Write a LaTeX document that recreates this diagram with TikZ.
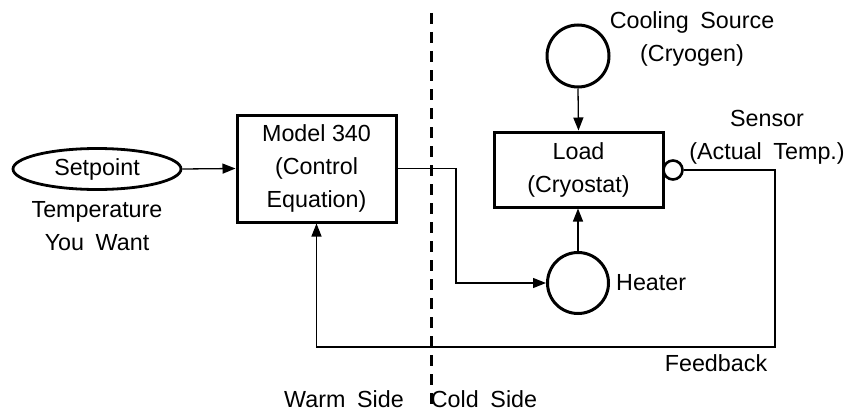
\documentclass[tikz,border=0pt]{standalone}
\usepackage{fontspec}
\setmainfont{Liberation Sans}
\usetikzlibrary{arrows.meta,shapes.geometric}
\newcommand{\wsp}{\hspace{0.5em}}
\begin{document}
\begin{tikzpicture}[x=1pt,y=-1pt,
  every node/.style={font=\fontsize{23.3}{33}\selectfont},
  blockbox/.style={draw,line width=3pt,inner sep=0pt,align=center},
  circ/.style={draw,circle,line width=3pt,inner sep=0pt},
  lbl/.style={inner sep=0pt,align=center},
  conn/.style={line width=1.3pt,-{Triangle[length=13pt,width=10pt]}},
  plain/.style={line width=1.3pt}
]
\useasboundingbox (0,0) rectangle (856,412);
% dashed divider
\coordinate (dtop) at (431,13);
\coordinate (dbot) at (431,412);
\draw[line width=3pt,dash pattern=on 11pt off 8pt] (dtop) -- (dbot);
% nodes
\node[draw,ellipse,line width=2.8pt,inner sep=0pt,minimum width=168pt,minimum height=41pt] (sp) at (97,169) {Setpoint};
\node[lbl] (want) at (97,226) {Temperature\\You\wsp Want};
\node[blockbox,minimum width=159pt,minimum height=107pt] (model) at (316.5,168.5) {Model 340\\(Control\\Equation)};
\node[blockbox,minimum width=169pt,minimum height=75pt] (load) at (578.5,169.5) {Load\\(Cryostat)};
\node[circ,minimum size=62pt] (cool) at (578,56) {};
\node[circ,minimum size=61pt] (heater) at (578,283) {};
\node[circ,line width=2.6pt,minimum size=19pt] (sensor) at (673,170) {};
\node[lbl] (coollbl) at (692,39) {Cooling\wsp Source\\(Cryogen)};
\node[lbl] (senslbl) at (767,137) {Sensor\\(Actual\wsp Temp.)};
\node[lbl,anchor=west] (heatlbl) at (616,283) {Heater};
\node[lbl] (fblbl) at (716,363) {Feedback};
\node[lbl] (warm) at (344,399) {Warm\wsp Side};
\node[lbl] (cold) at (484,399) {Cold\wsp Side};
% connectors
\draw[conn] (sp.east) -- (model.west);
\coordinate (hj) at (456,0);
\draw[conn] (model.east) -| (hj |- heater.west) -- (heater.west);
\draw[conn] (cool.south) -- (load.north);
\draw[conn] (heater.north) -- (load.south -| heater.north);
\coordinate (fbR) at (775,347);
\draw[conn] (sensor.east) -| (fbR) -| (model.south);
\end{tikzpicture}
\end{document}
